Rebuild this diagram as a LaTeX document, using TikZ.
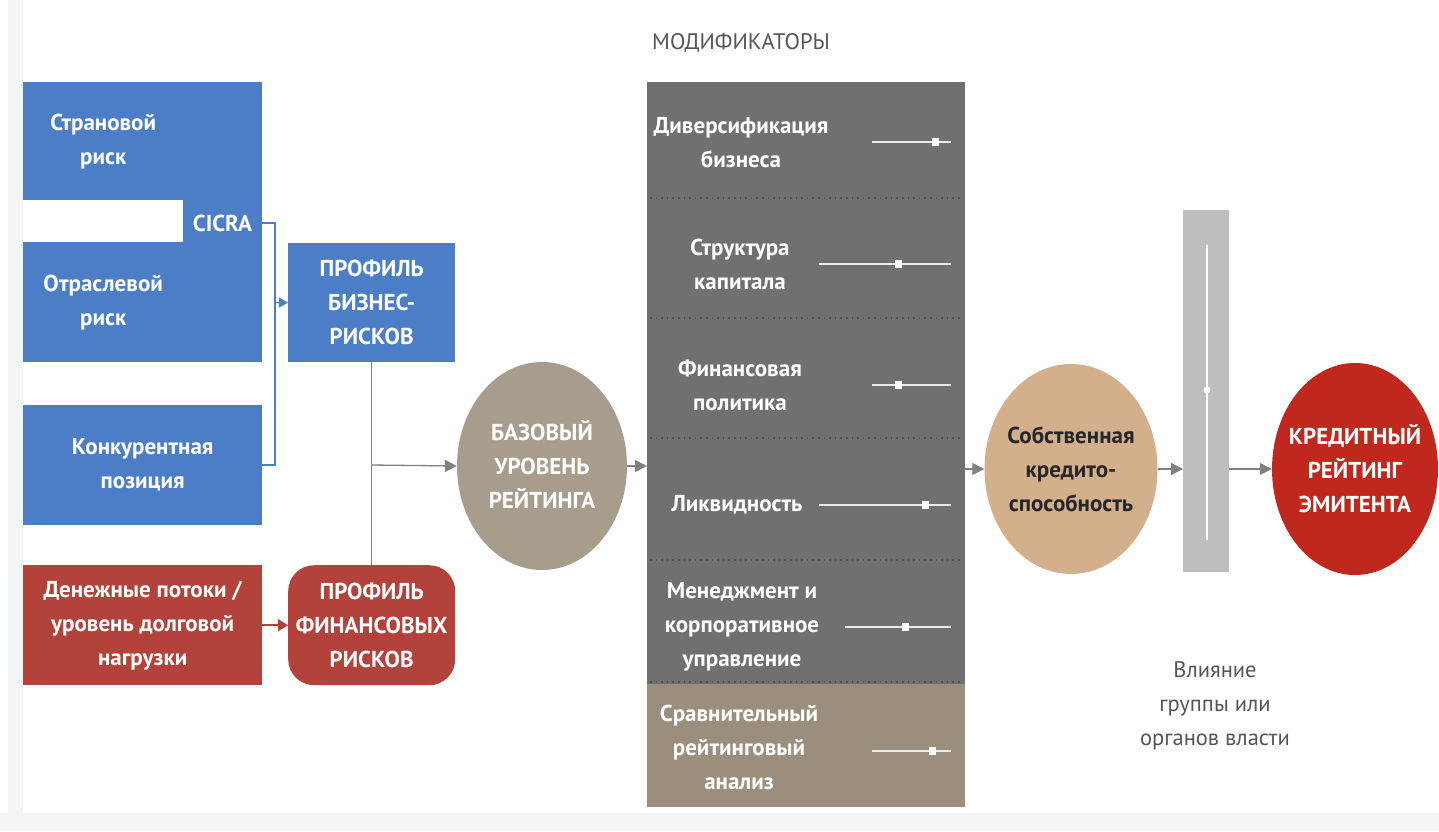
\documentclass[tikz,border=0pt]{standalone}
\usepackage{fontspec}
\setmainfont{PT Sans}
\usetikzlibrary{arrows.meta,shapes.geometric}
\definecolor{bgstrip}{RGB}{243,244,246}
\definecolor{cblue}{RGB}{76,126,200}
\definecolor{cred}{RGB}{178,66,58}
\definecolor{cbase}{RGB}{168,156,141}
\definecolor{cpanel}{RGB}{112,112,112}
\definecolor{cdiv}{RGB}{78,78,78}
\definecolor{cbrown}{RGB}{155,142,125}
\definecolor{ctan}{RGB}{212,175,140}
\definecolor{ccredit}{RGB}{192,40,30}
\definecolor{cbar}{RGB}{190,190,190}
\definecolor{carrow}{RGB}{128,128,128}
\definecolor{ctextgray}{RGB}{85,85,85}
\tikzset{
  lbl/.style={font=\bfseries\fontsize{23}{34}\selectfont, text=white, align=center, inner sep=0pt},
  box/.style={rectangle, inner sep=0pt, draw=none},
  blob/.style={ellipse, inner sep=0pt, draw=none},
  garrow/.style={draw=carrow, line width=1.3pt, -{Triangle[length=12pt,width=12pt]}},
  gline/.style={draw=carrow, line width=1.3pt},
  bline/.style={draw=cblue, line width=1.2pt},
  barrow/.style={draw=cblue, line width=1.2pt, -{Triangle[length=9pt,width=10pt]}},
  rarrow/.style={draw=cred, line width=1.6pt, -{Triangle[length=10pt,width=12pt]}},
  slider/.style={draw=white!92!black, line width=1.6pt},
  knob/.style={fill=white, draw=none, minimum width=7pt, minimum height=8pt, inner sep=0pt, rectangle},
  divider/.style={draw=cdiv, line width=1.6pt, dash pattern=on 1.6pt off 4pt},
}
\begin{document}
\begin{tikzpicture}[x=1pt,y=-1pt]
\useasboundingbox (0,0) rectangle (1439,831);
\fill[white] (0,0) rectangle (1439,831);
\fill[bgstrip] (0,813) rectangle (1439,831);
\fill[bgstrip] (8,0) rectangle (23,813);

% blue inputs
\node[box, fill=cblue, minimum width=160pt, minimum height=118pt, anchor=north west] (strana) at (23,82) {};
\node[lbl] at (strana.center) {Страновой\\риск};
\node[box, fill=cblue, minimum width=160pt, minimum height=120pt, anchor=north west] (otrasl) at (23,242) {};
\node[lbl] at (otrasl.center) {Отраслевой\\риск};
\node[box, fill=cblue, minimum width=79pt, minimum height=280pt, anchor=north west] (cicra) at (183,82) {};
\node[lbl] (cicratxt) at (222.5,223) {CICRA};
\node[box, fill=cblue, minimum width=239pt, minimum height=120pt, anchor=north west] (konk) at (23,405) {};
\node[lbl] at (konk.center) {Конкурентная\\позиция};
\node[box, fill=cblue, minimum width=167pt, minimum height=119pt, anchor=north west] (pbr) at (288,243) {};
\node[lbl] at (pbr.center) {ПРОФИЛЬ\\БИЗНЕС-\\РИСКОВ};

% red inputs
\node[box, fill=cred, minimum width=239pt, minimum height=120pt, anchor=north west] (den) at (23,565) {};
\node[lbl] at (den.center) {Денежные потоки /\\уровень долговой\\нагрузки};
\node[box, fill=cred, rounded corners=26pt, minimum width=167pt, minimum height=120pt, anchor=north west] (pfr) at (288,565) {};
\node[lbl] at (pfr.center) {ПРОФИЛЬ\\ФИНАНСОВЫХ\\РИСКОВ};

% base rating
\node[blob, fill=cbase, minimum width=170pt, minimum height=208pt] (base) at (542,466) {};
\node[lbl] at (542,464) {БАЗОВЫЙ\\УРОВЕНЬ\\РЕЙТИНГА};

% modifiers panel
\node[font=\fontsize{22.5}{26}\selectfont, text=ctextgray, anchor=west, inner sep=0pt] (modt) at (652,43) {МОДИФИКАТОРЫ};
\node[box, fill=cpanel, minimum width=318pt, minimum height=725pt, anchor=north west] (panel) at (647,82) {};
\fill[cbrown] (647,684) rectangle (965,807);
\foreach \yy in {198,318,438,560,682} \draw[divider] (650,\yy) -- (962,\yy);

\node[lbl] (m1) at (741,143) {Диверсификация\\бизнеса};
\node[lbl] (m2) at (740,264) {Структура\\капитала};
\node[lbl] (m3) at (740,385) {Финансовая\\политика};
\node[lbl] (m4) at (737,505) {Ликвидность};
\node[lbl] (m5) at (742,627) {Менеджмент и\\корпоративное\\управление};
\node[lbl] (m6) at (739,747) {Сравнительный\\рейтинговый\\анализ};

\draw[slider] (872,142) -- (951,142); \node[knob] at (935,142) {};
\draw[slider] (819,264) -- (951,264); \node[knob] at (898,264) {};
\draw[slider] (872,385) -- (951,385); \node[knob] at (898,385) {};
\draw[slider] (819,505) -- (951,505); \node[knob] at (925,505) {};
\draw[slider] (845,627) -- (951,627); \node[knob] at (905,627) {};
\draw[slider] (872,751) -- (951,751); \node[knob] at (932,751) {};

% own creditworthiness
\node[blob, fill=ctan, minimum width=173pt, minimum height=210pt] (sob) at (1071,469) {};
\node[lbl, text=black!85] at (1071,469) {Собственная\\кредито-\\способность};

% group influence bar
\node[box, fill=cbar, minimum width=46pt, minimum height=362pt, anchor=north west] (bar) at (1183,210) {};
\draw[white, line width=1.6pt] (1207,245) -- (1207,540);
\fill[white] (1207,390) circle (3.5pt);
\node[font=\fontsize{22.5}{34}\selectfont, text=ctextgray, align=center, inner sep=0pt] (vl) at (1215,706) {Влияние\\группы или\\органов власти};

% credit rating
\node[blob, fill=ccredit, minimum width=166pt, minimum height=212pt] (credit) at (1355,469) {};
\node[lbl] at (1355,469) {КРЕДИТНЫЙ\\РЕЙТИНГ\\ЭМИТЕНТА};

% connectors
\coordinate (b1) at (275,223);
\coordinate (b2) at (275,465);
\coordinate (b3) at (275,302.5);
\draw[bline] (cicra.east |- b1) -- (b1) -- (b2) -- (konk.east |- b2);
\draw[barrow] (b3) -- (pbr.west);
\draw[rarrow] (den.east) -- (pfr.west);
\draw[gline] (pbr.south) -- (pfr.north);
\coordinate (j1) at (371.5,465);
\draw[garrow] (j1) -- (base.west);
\draw[garrow] (base.east) -- (panel.west |- base.east);
\draw[garrow] (panel.east |- sob.west) -- (sob.west);
\draw[garrow] (sob.east) -- (bar.west |- sob.east);
\draw[garrow] (bar.east |- credit.west) -- (credit.west);
\end{tikzpicture}
\end{document}
